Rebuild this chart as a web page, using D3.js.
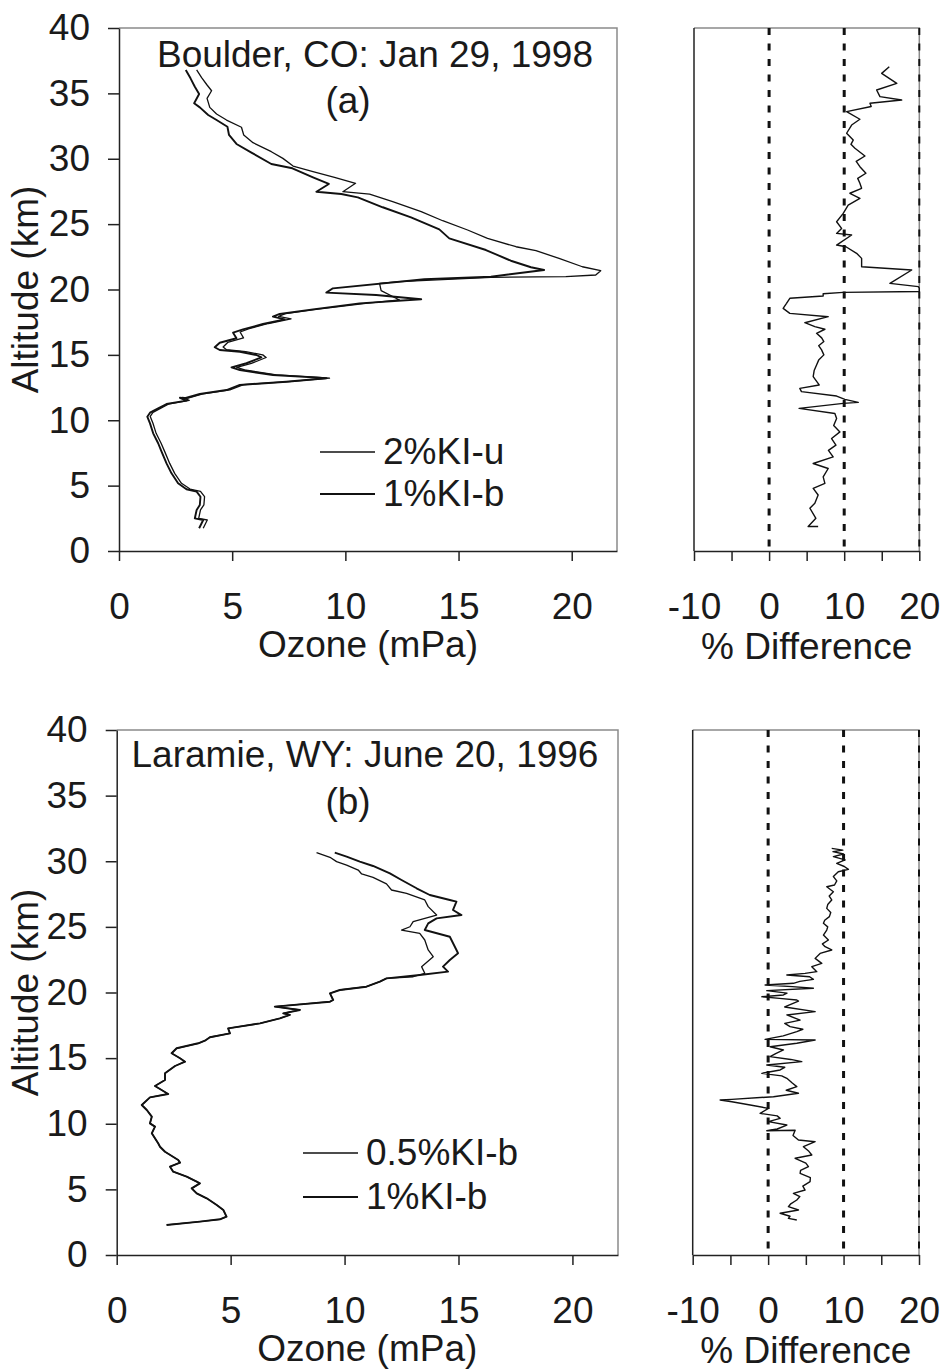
<!DOCTYPE html>
<html>
<head>
<meta charset="utf-8">
<script src="https://cdn.jsdelivr.net/npm/d3@7"></script>
<style>
  body { margin: 0; background: #fff; }
  svg { display: block; font-family: "Liberation Sans", Arial, sans-serif; }
</style>
</head>
<body>
<div id="wrapper"></div>
<script>
// ---- data: [ozone (mPa) or % diff, altitude (km)] ----
const boulder2KIu = [[3.43,36.79],[3.65,36.21],[3.89,35.64],[4.09,35.2],[3.89,34.62],[4.01,33.93],[4.31,33.42],[4.75,32.96],[5.41,32.41],[5.51,31.82],[5.92,31.23],[6.73,30.54],[7.24,30.03],[7.69,29.44],[8.57,29.01],[9.52,28.58],[10.45,28.12],[9.89,27.48],[11.07,27.3],[12.09,26.72],[13.35,25.95],[14.3,25.26],[15.4,24.55],[16.28,23.91],[17.54,23.27],[18.42,22.97],[19.44,22.38],[20.47,21.74],[21.28,21.44],[21.06,21.11],[19.74,20.98],[16.43,20.93],[12.39,20.6],[11.51,20.47],[11.58,19.91],[12.39,19.2],[10.9,18.94],[8.8,18.5],[7.35,18.15],[7.05,17.95],[7.6,17.75],[6.6,17.4],[5.75,17.0],[5.35,16.75],[5.5,16.3],[4.8,15.95],[4.6,15.6],[4.75,15.4],[5.6,15.25],[6.35,15.0],[6.5,14.8],[5.85,14.35],[5.2,14.05],[5.55,13.85],[6.95,13.47],[8.7,13.3],[9.3,13.22],[7.5,12.96],[5.5,12.72],[4.9,12.32],[3.7,12.02],[3.05,11.7],[2.8,11.74],[3.1,11.52],[2.22,11.26],[1.85,10.93],[1.5,10.6],[1.38,10.29],[1.5,9.77],[1.64,9.0],[1.86,8.24],[2.02,7.6],[2.24,6.7],[2.46,5.94],[2.76,5.18],[3.14,4.74],[3.6,4.56],[3.78,4.16],[3.75,3.52],[3.6,3.14],[3.52,2.5],[3.9,2.37],[3.72,1.74]];

const boulder1KIb = [[2.95,36.79],[3.16,36.15],[3.35,35.51],[3.54,34.95],[3.32,34.24],[3.57,33.93],[3.94,33.35],[4.31,32.96],[4.79,32.45],[4.86,31.82],[5.19,31.13],[5.85,30.47],[6.73,29.6],[7.66,29.27],[8.57,28.58],[9.27,28.07],[8.72,27.48],[9.82,27.3],[10.55,27.05],[11.65,26.29],[12.9,25.52],[14.15,24.6],[14.59,23.91],[16.21,23.02],[17.31,22.2],[18.2,21.7],[18.78,21.49],[16.43,20.98],[13.49,20.78],[9.45,20.09],[9.16,19.76],[11.36,19.58],[13.35,19.25],[10.63,18.94],[8.57,18.48],[7.1,18.13],[6.8,17.92],[7.32,17.72],[6.36,17.36],[5.48,16.95],[5.04,16.7],[5.19,16.27],[4.45,15.93],[4.23,15.58],[4.45,15.37],[5.34,15.24],[6.07,14.99],[6.29,14.81],[5.63,14.36],[4.97,14.05],[5.34,13.84],[6.8,13.46],[8.57,13.28],[9.16,13.21],[7.39,12.95],[5.34,12.7],[4.75,12.31],[3.57,12.01],[2.91,11.68],[2.69,11.72],[2.98,11.5],[2.1,11.24],[1.73,10.91],[1.37,10.58],[1.25,10.27],[1.37,9.76],[1.51,9.0],[1.73,8.24],[1.88,7.6],[2.1,6.7],[2.32,5.94],[2.61,5.18],[2.98,4.72],[3.43,4.54],[3.6,4.15],[3.57,3.52],[3.43,3.14],[3.35,2.5],[3.72,2.37],[3.54,1.74]];

const boulderDiff = [[16.0,37.04],[14.99,36.53],[17.0,35.77],[14.32,35.26],[14.76,34.75],[17.65,34.49],[13.43,34.24],[13.6,34.0],[10.32,33.6],[12.09,33.02],[10.99,32.58],[10.32,31.95],[11.2,31.43],[10.9,31.1],[11.43,30.8],[12.76,30.21],[11.6,29.8],[12.09,29.39],[12.89,28.89],[11.8,28.5],[12.09,28.12],[12.32,27.74],[10.76,27.36],[12.09,26.97],[10.53,26.46],[9.87,25.82],[8.99,25.18],[9.65,24.67],[8.99,24.29],[10.99,24.17],[8.99,23.4],[10.23,23.27],[11.65,22.77],[12.32,22.38],[12.32,21.74],[18.99,21.49],[16.09,20.47],[19.87,20.22],[20.0,20.1],[20.0,19.85],[9.87,19.78],[7.2,19.68],[7.2,19.5],[2.76,19.33],[2.32,18.94],[1.87,18.56],[2.76,18.17],[7.87,17.92],[4.76,17.46],[6.09,17.16],[7.43,16.96],[6.32,16.65],[7.0,16.3],[7.29,16.02],[6.6,15.7],[6.99,15.38],[7.29,15.0],[6.6,14.6],[6.32,14.23],[6.0,13.8],[5.87,13.34],[6.67,12.7],[4.09,12.44],[4.31,12.19],[8.99,11.85],[10.09,11.6],[11.87,11.37],[9.87,11.29],[4.0,10.91],[8.76,10.52],[8.99,10.13],[8.6,9.6],[9.43,9.11],[8.32,8.6],[8.9,8.1],[7.9,7.7],[8.53,7.2],[5.87,6.69],[7.87,6.31],[7.2,5.67],[7.43,5.17],[5.87,4.79],[6.53,4.28],[6.09,3.65],[5.43,3.27],[6.23,2.5],[5.2,1.87],[6.53,1.87]];

const laramieHalfKIbTop = [[8.77,30.65],[9.36,30.3],[9.65,29.97],[10.09,29.71],[10.6,29.33],[10.75,29.03],[11.25,28.77],[11.84,28.27],[12.06,27.81],[12.72,27.56],[13.52,27.05],[13.67,26.54],[14.04,25.9],[13.01,25.4],[12.87,25.01],[12.5,24.76],[13.3,24.51],[13.52,24.0],[13.67,23.24],[13.89,22.73],[13.38,21.97],[13.52,21.46],[13.01,21.2]];

const laramie1KIbTop = [[9.57,30.65],[10.09,30.35],[10.67,29.97],[11.25,29.64],[11.99,29.08],[12.5,28.57],[13.16,27.94],[13.74,27.43],[14.62,27.05],[14.91,26.92],[14.76,26.29],[15.13,25.9],[14.04,25.65],[13.67,25.27],[13.52,24.76],[14.62,24.25],[14.91,23.24],[14.98,22.99],[14.62,22.48],[14.32,21.97],[14.54,21.59],[13.3,21.33]];

// below ~21 km the two Laramie profiles lie on top of each other
const laramieShared = [[11.84,21.08],[11.55,20.83],[10.96,20.44],[9.79,20.19],[9.36,19.94],[9.5,19.43],[9.36,19.3],[6.94,18.92],[8.04,18.67],[7.31,18.41],[7.6,18.3],[7.16,18.03],[6.29,17.65],[4.89,17.27],[4.97,16.89],[4.09,16.59],[3.87,16.33],[3.58,16.13],[2.63,15.75],[2.41,15.37],[2.78,14.99],[3.0,14.73],[2.56,14.4],[2.12,13.84],[2.12,13.33],[1.68,12.88],[1.97,12.57],[2.26,12.27],[1.46,12.01],[1.1,11.43],[1.32,11.05],[1.54,10.54],[1.46,10.03],[1.68,9.78],[1.54,9.27],[1.82,8.51],[1.9,8.25],[2.12,7.87],[2.7,7.24],[2.78,7.04],[2.34,6.73],[2.48,6.35],[3.07,5.97],[3.51,5.59],[3.65,5.46],[3.29,5.08],[3.51,4.7],[3.95,4.32],[4.39,3.81],[4.68,3.43],[4.82,2.92],[4.53,2.72],[3.65,2.54],[2.19,2.29]];

const laramieDiff = [[8.43,30.98],[9.9,30.85],[8.6,30.73],[10.0,30.55],[8.65,30.35],[10.2,30.1],[9.09,29.84],[10.1,29.6],[10.64,29.38],[9.3,29.2],[8.65,28.83],[9.1,28.5],[8.8,28.19],[7.77,28.06],[8.65,27.68],[8.1,27.35],[8.43,27.05],[7.9,26.7],[7.77,26.41],[8.3,26.1],[8.12,25.78],[7.5,25.5],[7.33,25.27],[7.9,25.0],[7.77,24.76],[7.33,24.38],[7.99,24.0],[7.2,23.7],[7.55,23.49],[8.43,23.24],[6.89,22.98],[6.23,22.6],[7.11,22.22],[5.79,21.97],[6.45,21.59],[4.9,21.46],[2.48,21.33],[5.5,21.2],[6.0,21.0],[4.2,20.85],[3.35,20.7],[-0.4,20.57],[3.2,20.45],[6.0,20.32],[-0.18,20.14],[2.5,19.95],[2.03,19.81],[-0.83,19.68],[1.5,19.55],[3.8,19.43],[4.02,19.35],[2.2,18.9],[6.23,18.54],[2.48,18.29],[4.24,17.9],[2.2,17.65],[2.91,17.4],[4.6,17.2],[3.8,17.02],[2.0,16.7],[-0.4,16.43],[6.23,16.38],[3.8,16.13],[0.26,15.87],[2.03,15.62],[1.0,15.35],[0.26,15.11],[3.0,14.9],[4.46,14.73],[-0.18,14.48],[2.2,14.3],[1.59,14.1],[-0.83,13.84],[1.8,13.65],[2.48,13.46],[3.2,13.1],[3.8,12.83],[2.4,12.55],[4.02,12.32],[0.71,12.06],[-4.81,11.86],[-6.36,11.81],[-4.81,11.68],[-2.38,11.43],[0.04,11.17],[-1.06,10.79],[1.2,10.6],[1.59,10.41],[0.04,10.16],[2.48,9.9],[1.2,9.6],[-0.18,9.47],[3.58,9.5],[3.3,9.1],[4.02,8.76],[6.23,8.63],[4.68,8.25],[5.4,7.9],[5.79,7.62],[3.58,7.37],[5.0,7.0],[5.34,6.73],[4.3,6.45],[4.24,6.22],[5.6,5.9],[5.56,5.59],[4.6,5.25],[4.9,4.95],[3.35,4.7],[4.2,4.45],[3.8,4.19],[3.0,3.9],[2.69,3.68],[4.02,3.43],[1.59,3.18],[2.9,2.95],[2.69,2.79],[3.8,2.67]];

const altTicks = [0, 5, 10, 15, 20, 25, 30, 35, 40];
const ozoneTicks = [0, 5, 10, 15, 20];
const diffTicks = [-10, -5, 0, 5, 10, 15, 20];
const diffLabels = [-10, 0, 10, 20];
const diffRefLines = [0, 10, 20];

const panels = [
  { top: 28, bottom: 551, left: 119, right: 617, dLeft: 694, dRight: 919.3,
    title: "Boulder, CO: Jan 29, 1998", tag: "(a)", titleX: 375, titleY: 67, tagY: 113,
    lines: [{ data: boulder2KIu, name: "2%KI-u", w: 1.3 }, { data: boulder1KIb, name: "1%KI-b", w: 1.9 }],
    diff: boulderDiff, legX: 320, legY: [452, 494] },
  { top: 730, bottom: 1255, left: 116.7, right: 618, dLeft: 692.7, dRight: 919,
    title: "Laramie, WY: June 20, 1996", tag: "(b)", titleX: 365, titleY: 767, tagY: 814,
    lines: [{ data: laramieHalfKIbTop.concat(laramieShared), name: "0.5%KI-b", w: 1.3 },
            { data: laramie1KIbTop.concat(laramieShared), name: "1%KI-b", w: 1.9 }],
    diff: laramieDiff, legX: 303, legY: [1153, 1197] }
];

const svg = d3.select("#wrapper").append("svg").attr("width", 943).attr("height", 1371);
const fontSize = 37;

panels.forEach(function(p) {
  const y = d3.scaleLinear().domain([0, 40]).range([p.bottom, p.top]);
  const x = d3.scaleLinear().domain([0, 22]).range([p.left, p.right]);
  const xd = d3.scaleLinear().domain([-10, 20]).range([p.dLeft, p.dRight]);

  // ---- ozone profile panel ----
  const g = svg.append("g");
  g.append("path").attr("d", `M${p.left},${p.top}H${p.right}V${p.bottom}`)
    .attr("fill", "none").attr("stroke", "#8a8a8a").attr("stroke-width", 1.5);

  const line = d3.line().x(d => x(d[0])).y(d => y(d[1]));
  p.lines.forEach(function(s) {
    g.append("path").datum(s.data).attr("d", line)
      .attr("fill", "none").attr("stroke", "#111").attr("stroke-width", s.w)
      .attr("stroke-linejoin", "round");
  });

  const yAxis = g.append("g").attr("transform", `translate(${p.left},0)`)
    .call(d3.axisLeft(y).tickValues(altTicks).tickSize(11).tickPadding(18).tickSizeOuter(0).tickFormat(d => String(d)));
  const xAxis = g.append("g").attr("transform", `translate(0,${p.bottom})`)
    .call(d3.axisBottom(x).tickValues(ozoneTicks).tickSize(10).tickPadding(32).tickSizeOuter(0).tickFormat(d => String(d)));
  [yAxis, xAxis].forEach(function(a) {
    a.selectAll("path, line").attr("stroke", "#222").attr("stroke-width", 1.5);
    a.selectAll("text").attr("fill", "#1a1a1a").style("font-size", fontSize + "px");
  });

  g.append("text").attr("x", p.titleX).attr("y", p.titleY).attr("text-anchor", "middle")
    .style("font-size", fontSize + "px").attr("fill", "#1a1a1a").text(p.title);
  g.append("text").attr("x", 348).attr("y", p.tagY).attr("text-anchor", "middle")
    .style("font-size", fontSize + "px").attr("fill", "#1a1a1a").text(p.tag);

  p.lines.forEach(function(s, i) {
    g.append("line").attr("x1", p.legX).attr("x2", p.legX + 55)
      .attr("y1", p.legY[i]).attr("y2", p.legY[i])
      .attr("stroke", "#111").attr("stroke-width", s.w);
    g.append("text").attr("x", p.legX + 63).attr("y", p.legY[i] + 12)
      .style("font-size", fontSize + "px").attr("fill", "#1a1a1a").text(s.name);
  });

  g.append("text").attr("transform", `translate(38,${(p.top + p.bottom) / 2}) rotate(-90)`)
    .attr("text-anchor", "middle").style("font-size", fontSize + "px").attr("fill", "#1a1a1a")
    .text("Altitude (km)");
  g.append("text").attr("x", (p.left + p.right) / 2).attr("y", p.bottom + 106)
    .attr("text-anchor", "middle").style("font-size", fontSize + "px").attr("fill", "#1a1a1a")
    .text("Ozone (mPa)");

  // ---- percent difference panel ----
  const gd = svg.append("g");
  gd.append("path").attr("d", `M${p.dLeft},${p.top}H${p.dRight}V${p.bottom}`)
    .attr("fill", "none").attr("stroke", "#8a8a8a").attr("stroke-width", 1.5);
  gd.selectAll(".ref").data(diffRefLines).enter().append("line")
    .attr("x1", d => xd(d)).attr("x2", d => xd(d))
    .attr("y1", p.top).attr("y2", p.bottom)
    .attr("stroke", "#111").attr("stroke-width", d => d === 20 ? 2 : 3)
    .attr("stroke-dasharray", "7 8.5");

  gd.append("path").datum(p.diff)
    .attr("d", d3.line().x(d => xd(d[0])).y(d => y(d[1])))
    .attr("fill", "none").attr("stroke", "#111").attr("stroke-width", 1.4)
    .attr("stroke-linejoin", "round");

  gd.append("line").attr("x1", p.dLeft).attr("x2", p.dLeft).attr("y1", p.top).attr("y2", p.bottom)
    .attr("stroke", "#222").attr("stroke-width", 1.5);
  const dAxis = gd.append("g").attr("transform", `translate(0,${p.bottom})`)
    .call(d3.axisBottom(xd).tickValues(diffTicks).tickSize(10).tickPadding(32).tickSizeOuter(0)
      .tickFormat(d => diffLabels.includes(d) ? String(d) : ""));
  dAxis.selectAll("path, line").attr("stroke", "#222").attr("stroke-width", 1.5);
  dAxis.selectAll("text").attr("fill", "#1a1a1a").style("font-size", fontSize + "px");

  gd.append("text").attr("x", (p.dLeft + p.dRight) / 2).attr("y", p.bottom + 108)
    .attr("text-anchor", "middle").style("font-size", fontSize + "px").attr("fill", "#1a1a1a")
    .text("% Difference");
});
</script>
</body>
</html>
